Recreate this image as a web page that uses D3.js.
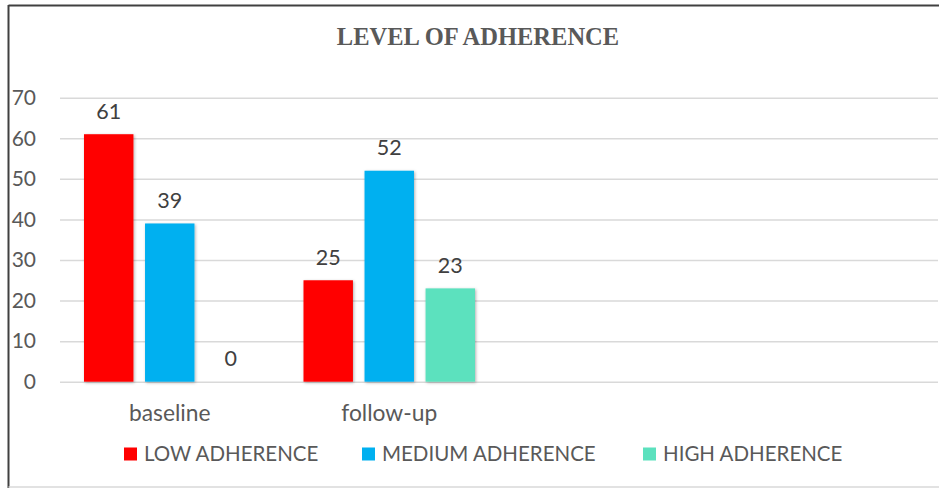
<!DOCTYPE html>
<html>
<head>
<meta charset="utf-8">
<script src="https://cdn.jsdelivr.net/npm/d3@7"></script>
<style>
  html, body { margin: 0; padding: 0; background: #fff; }
  svg { display: block; }
</style>
</head>
<body>
<svg id="chart" width="939" height="488"></svg>
<script>
// Categories on the x axis (the last two slots are left empty)
const categories = ["baseline", "follow-up", "", ""];
// Series names and values per category
const seriesNames = ["LOW ADHERENCE", "MEDIUM ADHERENCE", "HIGH ADHERENCE"];
const lowValues = [61, 25];
const mediumValues = [39, 52];
const highValues = [0, 23];
const yTicks = [0, 10, 20, 30, 40, 50, 60, 70];

const colors = ["#FF0000", "#00B0F0", "#5CE1BE"];
const textColor = "#595959";
const font = "Lato, 'Liberation Sans', Arial, sans-serif";

const svg = d3.select("#chart");
const W = 939, H = 488;
const plot = { left: 60, right: 938, top: 97.7, bottom: 381.7 };

// frame
svg.append("line").attr("x1", 8.5).attr("x2", W).attr("y1", 5.5).attr("y2", 5.5)
  .attr("stroke", "#404040").attr("stroke-width", 2);
svg.append("line").attr("x1", 8.5).attr("x2", 8.5).attr("y1", 5).attr("y2", H)
  .attr("stroke", "#404040").attr("stroke-width", 2);
svg.append("line").attr("x1", 8.5).attr("x2", W).attr("y1", 487).attr("y2", 487)
  .attr("stroke", "#d9d9d9").attr("stroke-width", 1.5);

// shadow for bars
const defs = svg.append("defs");
const f = defs.append("filter").attr("id", "shadow")
  .attr("x", "-20%").attr("y", "-20%").attr("width", "140%").attr("height", "140%");
f.append("feDropShadow").attr("dx", 1).attr("dy", 1).attr("stdDeviation", 1.5)
  .attr("flood-color", "#000").attr("flood-opacity", 0.3);

// title
svg.append("text")
  .attr("x", 478).attr("y", 45)
  .attr("text-anchor", "middle")
  .attr("font-family", "'Liberation Serif', 'Times New Roman', serif")
  .attr("font-weight", "bold")
  .attr("font-size", 24.5)
  .attr("letter-spacing", 0)
  .attr("fill", textColor)
  .text("LEVEL OF ADHERENCE");

// scales
const x0 = d3.scaleBand()
  .domain(d3.range(categories.length))
  .range([plot.left, plot.right])
  .paddingInner(0).paddingOuter(0);

const outer = 24;
const x1 = d3.scaleBand()
  .domain(d3.range(seriesNames.length))
  .range([outer, x0.bandwidth() - outer])
  .paddingInner(0.19).paddingOuter(0);

const y = d3.scaleLinear().domain([0, 70]).range([plot.bottom, plot.top]);

// y axis with gridlines
const yAxis = svg.append("g")
  .attr("transform", `translate(${plot.left},0)`)
  .call(d3.axisLeft(y).tickValues(yTicks)
    .tickSizeInner(-(plot.right - plot.left)).tickSizeOuter(0).tickPadding(24));
yAxis.select(".domain").remove();
yAxis.selectAll(".tick line").attr("stroke", "#d9d9d9").attr("stroke-width", 1.5);
yAxis.selectAll(".tick text")
  .attr("fill", textColor).attr("font-family", font).attr("font-size", 21);

// x axis labels
const xAxis = svg.append("g")
  .attr("transform", `translate(0,${plot.bottom})`)
  .call(d3.axisBottom(x0).tickFormat(i => categories[i]).tickSize(0));
xAxis.select(".domain").remove();
xAxis.selectAll(".tick text")
  .attr("dy", null).attr("y", 39.5)
  .attr("fill", textColor).attr("font-family", font).attr("font-size", 22.8);

// bars
const seriesValues = [lowValues, mediumValues, highValues];
const rows = [];
seriesValues.forEach((vals, s) => {
  vals.forEach((v, c) => rows.push({ c, s, v }));
});

svg.append("g").selectAll("rect")
  .data(rows.filter(d => d.v > 0))
  .join("rect")
  .attr("x", d => x0(d.c) + x1(d.s))
  .attr("y", d => y(d.v))
  .attr("width", x1.bandwidth())
  .attr("height", d => y(0) - y(d.v))
  .attr("fill", d => colors[d.s])
  .attr("filter", "url(#shadow)");

// value labels
svg.append("g").selectAll("text")
  .data(rows)
  .join("text")
  .attr("x", d => x0(d.c) + x1(d.s) + x1.bandwidth() / 2)
  .attr("y", d => y(d.v) - 15.5)
  .attr("text-anchor", "middle")
  .attr("fill", "#404040")
  .attr("font-family", font)
  .attr("font-size", 21.5)
  .text(d => d.v);

// legend
const legendX = [124, 362, 643];
const legend = svg.append("g").selectAll("g")
  .data(seriesNames)
  .join("g")
  .attr("transform", (d, i) => `translate(${legendX[i]},447.5)`);
legend.append("rect")
  .attr("width", 13).attr("height", 13)
  .attr("fill", (d, i) => colors[i]);
legend.append("text")
  .attr("x", 20).attr("y", 13.5)
  .attr("fill", textColor)
  .attr("font-family", font)
  .attr("font-size", 20.5)
  .text(d => d);
</script>
</body>
</html>
